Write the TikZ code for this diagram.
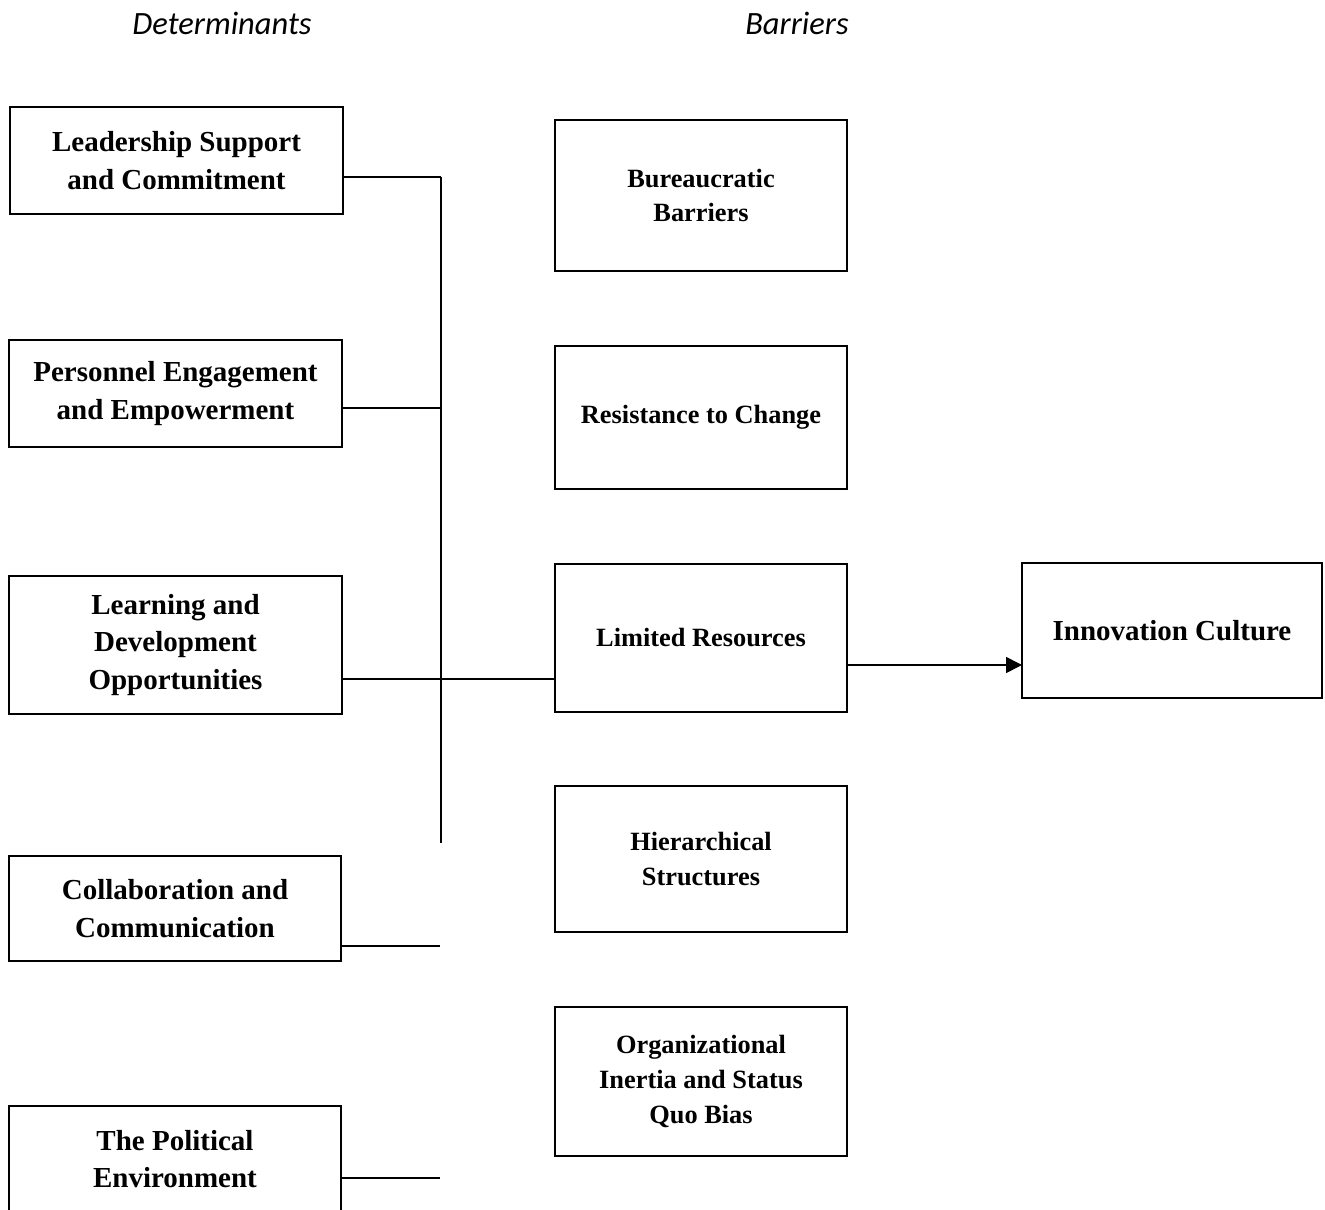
\documentclass[tikz,border=0pt]{standalone}
\usepackage{fontspec}
\setmainfont{Liberation Serif}
\newfontfamily\headfont{Carlito}
\usetikzlibrary{arrows.meta}
\begin{document}
\begin{tikzpicture}[x=0.02cm,y=-0.02cm,
  box/.style={draw=black,line width=1.4pt,inner sep=0pt,outer sep=0pt,align=center,
    font=\bfseries\fontsize{16.5}{21.5}\selectfont},
  midbox/.style={box,minimum width=5.84cm,font=\bfseries\fontsize{15}{19.8}\selectfont},
  conn/.style={draw=black,line width=0.8pt},
  head/.style={font=\headfont\itshape\fontsize{18.5}{22}\selectfont}]
\useasboundingbox (0,0) rectangle (1325,1210);
% headers
\node[head] (hd) at (222,23) {Determinants};
\node[head] (hb) at (797,23) {Barriers};
% left column
\node[box,minimum width=6.66cm,minimum height=2.14cm] (L1) at (176.5,160.5) {Leadership Support\\and Commitment};
\node[box,minimum width=6.66cm,minimum height=2.14cm] (L2) at (175.5,393.5) {Personnel Engagement\\and Empowerment};
\node[box,minimum width=6.66cm,minimum height=2.76cm] (L3) at (175.5,645) {Learning and\\Development\\Opportunities};
\node[box,minimum width=6.64cm,minimum height=2.10cm] (L4) at (175,908.5) {Collaboration and\\Communication};
\node[box,minimum width=6.64cm,minimum height=2.12cm] (L5) at (175,1159) {The Political\\Environment};
% middle column
\node[midbox,minimum height=3.02cm] (M1) at (701,195.5) {Bureaucratic\\Barriers};
\node[midbox,minimum height=2.86cm] (M2) at (701,417.5) {Resistance to Change};
\node[midbox,minimum height=2.96cm] (M3) at (701,638) {Limited Resources};
\node[midbox,minimum height=2.92cm] (M4) at (701,859) {Hierarchical\\Structures};
\node[midbox,minimum height=2.98cm] (M5) at (701,1081.5) {Organizational\\Inertia and Status\\Quo Bias};
% outcome
\node[box,minimum width=6cm,minimum height=2.7cm] (IC) at (1172,630.5) {Innovation Culture};
% spine coordinates
\coordinate (s1) at (441,177);
\coordinate (s2) at (441,408);
\coordinate (s3) at (441,679);
\coordinate (sb) at (441,843);
\coordinate (e4) at (440,946);
\coordinate (e5) at (440,1178);
\coordinate (a) at (0,665);
% connectors
\draw[conn] (s1) -- (sb);
\draw[conn] (L1.east |- s1) -- (s1);
\draw[conn] (L2.east |- s2) -- (s2);
\draw[conn] (L3.east |- s3) -- (M3.west |- s3);
\draw[conn] (L4.east |- e4) -- (e4);
\draw[conn] (L5.east |- e5) -- (e5);
\draw[conn,-{Triangle[length=9pt,width=9pt]}] (M3.east |- a) -- (IC.west |- a);
\end{tikzpicture}
\end{document}
